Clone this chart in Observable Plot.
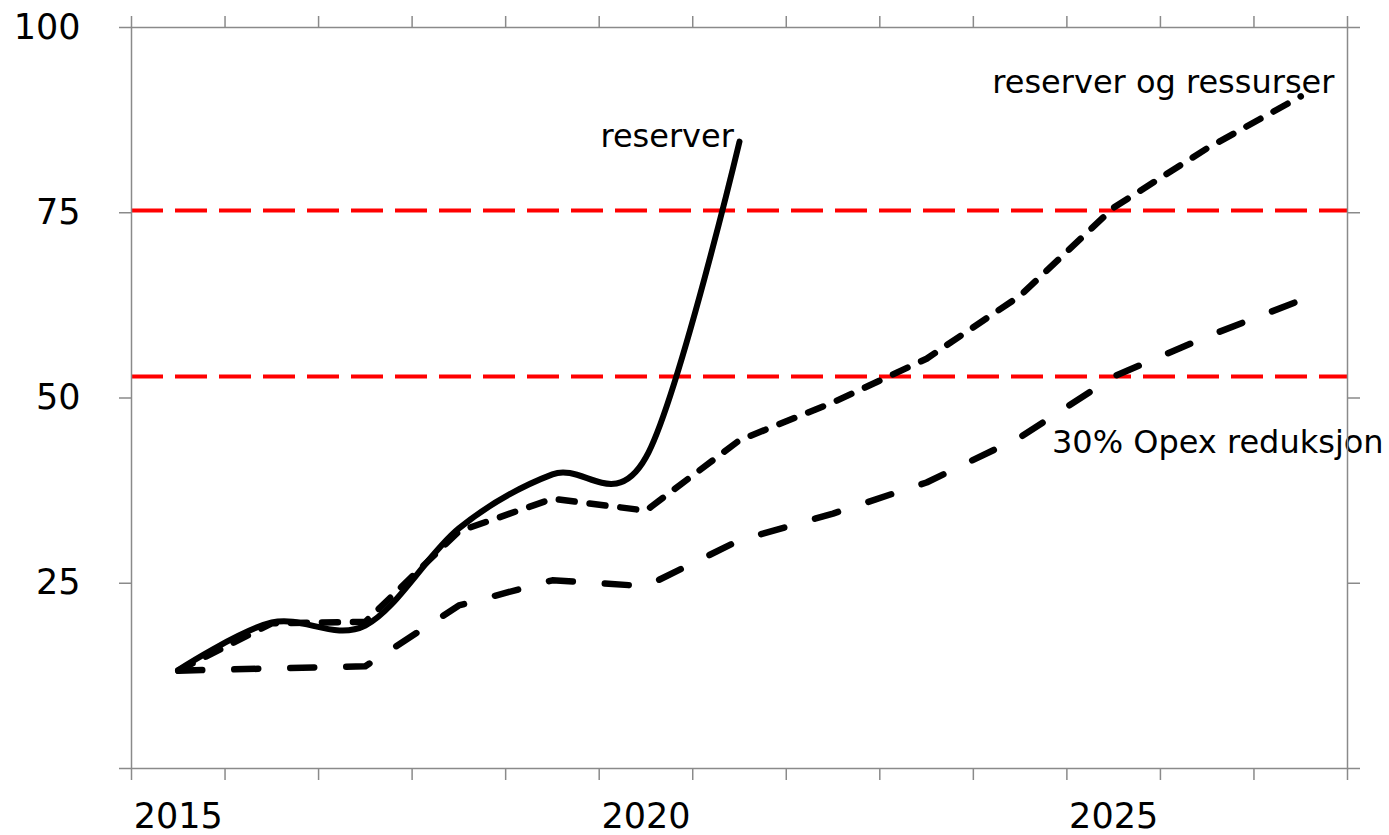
<!DOCTYPE html>
<html>
<head>
<meta charset="utf-8">
<script src="https://cdn.jsdelivr.net/npm/d3@7"></script>
<script src="https://cdn.jsdelivr.net/npm/@observablehq/plot@0.6"></script>
<style>
  html, body { margin: 0; padding: 0; background: white; }
  #chart svg { display: block; overflow: visible; }
</style>
</head>
<body>
<div id="chart"></div>
<script>
// Categories (one per year, drawn at the middle of each year's band)
const years = [2015, 2016, 2017, 2018, 2019, 2020, 2021, 2022, 2023, 2024, 2025, 2026, 2027];

// Series values
const reserver   = [13.3, 19.7, 19.3, 32.4, 39.7, 42.0, 84.6];
const ressurser  = [13.2, 19.6, 19.8, 32.0, 36.4, 34.8, 44.3, 49.4, 55.3, 63.8, 75.7, 83.7, 90.7];
const opex       = [13.2, 13.5, 13.8, 22.0, 25.4, 24.6, 30.8, 34.4, 38.6, 44.7, 52.9, 58.3, 63.2];

// Reference levels (red dashed)
const redLevels = [75.3, 52.9];

// Axis ticks and labels
const xTickYears = [2015, 2016, 2017, 2018, 2019, 2020, 2021, 2022, 2023, 2024, 2025, 2026, 2027, 2028];
const xLabels = ["2015", "2020", "2025"];
const yTicks = [0, 25, 50, 75, 100];
const yLabels = [25, 50, 75, 100];

// Series labels: text, anchor year, value
const endLabels = [
  {text: "reserver", year: 2021.44, value: 83.9},
  {text: "reserver og ressurser", year: 2027.86, value: 91.2}
];
const startLabels = [
  {text: "30% Opex reduksjon", year: 2024.84, value: 42.6}
];

const toRows = (vals) => vals.map((v, i) => ({year: years[i], value: v}));
const mid = d => d.year + 0.5;

const axisColor = "#8a8a8a";

const chart = Plot.plot({
  width: 1389,
  height: 835,
  marginLeft: 131,
  marginRight: 42,
  marginTop: 27,
  marginBottom: 67,
  x: {domain: [2015, 2028]},
  y: {domain: [0, 100]},
  style: {fontFamily: "'DejaVu Sans', Verdana, sans-serif", background: "white", color: "black"},
  marks: [
    Plot.ruleY(redLevels, {stroke: "#ff0000", strokeWidth: 4, strokeDasharray: "32,12"}),
    Plot.line(toRows(opex), {x: mid, y: "value", stroke: "black", strokeWidth: 6.5,
      strokeDasharray: "24,32", strokeLinecap: "round", strokeLinejoin: "round"}),
    Plot.line(toRows(ressurser), {x: mid, y: "value", stroke: "black", strokeWidth: 6.5,
      strokeDasharray: "16,15", strokeLinecap: "round", strokeLinejoin: "round"}),
    Plot.line(toRows(reserver), {x: mid, y: "value", stroke: "black", strokeWidth: 6,
      curve: "catmull-rom", tension: 0, strokeLinecap: "round"}),
    Plot.text(endLabels, {x: "year", y: "value", text: "text", textAnchor: "end",
      lineAnchor: "bottom", fontSize: 32, fill: "black"}),
    Plot.text(startLabels, {x: "year", y: "value", text: "text", textAnchor: "start",
      lineAnchor: "bottom", fontSize: 32, fill: "black"}),
    Plot.frame({stroke: axisColor, strokeWidth: 1.5}),
    Plot.axisY(yTicks, {anchor: "left", tickSize: 12, tickPadding: 39, stroke: axisColor, strokeWidth: 1.5,
      fontSize: 35, label: null, tickFormat: d => yLabels.includes(d) ? String(d) : ""}),
    Plot.axisY(yTicks, {anchor: "right", tickSize: 12, stroke: axisColor, strokeWidth: 1.5,
      label: null, tickFormat: () => ""}),
    Plot.axisX(xTickYears, {anchor: "top", tickSize: 12, stroke: axisColor, strokeWidth: 1.5,
      label: null, tickFormat: () => ""}),
    Plot.axisX(xTickYears, {anchor: "bottom", tickSize: 12, stroke: axisColor, strokeWidth: 1.5,
      label: null, tickFormat: () => ""}),
    Plot.axisX(xLabels.map(s => Number(s) + 0.5), {anchor: "bottom", tickSize: 0, tickPadding: 35,
      fontSize: 35, label: null, tickFormat: d => String(d - 0.5)})
  ]
});

document.getElementById("chart").appendChild(chart);
</script>
</body>
</html>
